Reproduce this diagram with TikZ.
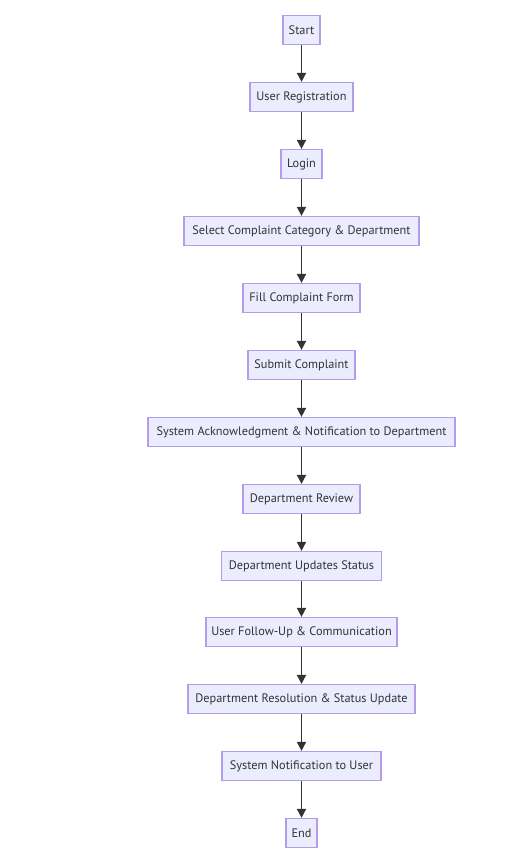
\documentclass[tikz,border=0pt]{standalone}
\usepackage{fontspec}
\setmainfont{PT Sans}
\usetikzlibrary{arrows.meta}
\definecolor{boxfill}{HTML}{ECECFF}
\definecolor{boxline}{HTML}{B39DEB}
\definecolor{txt}{HTML}{333333}
\begin{document}
\begin{tikzpicture}[x=1pt,y=-1pt,
  flowbox/.style={draw=boxline,fill=boxfill,line width=1.2pt,minimum height=29pt,inner sep=0pt,text=txt,font=\fontsize{12.3pt}{14pt}\selectfont},
  flowarrow/.style={draw=txt,line width=1.8pt,-{Triangle[length=9pt,width=9pt]}}]
\useasboundingbox (0,0) rectangle (524,859);
\node[flowbox,minimum width=37pt] (n1) at (301.5,30) {Start};
\node[flowbox,minimum width=103pt] (n2) at (301.5,97) {User Registration};
\node[flowbox,minimum width=41pt] (n3) at (301.5,164) {Login};
\node[flowbox,minimum width=235pt] (n4) at (301.5,231) {Select Complaint Category \& Department};
\node[flowbox,minimum width=117pt] (n5) at (301.5,298) {Fill Complaint Form};
\node[flowbox,minimum width=107pt] (n6) at (301.5,365) {Submit Complaint};
\node[flowbox,minimum width=307pt] (n7) at (301.5,432) {System Acknowledgment \& Notification to Department};
\node[flowbox,minimum width=117pt] (n8) at (301.5,499) {Department Review};
\node[flowbox,minimum width=160pt] (n9) at (301.5,566) {Department Updates Status};
\node[flowbox,minimum width=191pt] (n10) at (301.5,632) {User Follow-Up \& Communication};
\node[flowbox,minimum width=227pt] (n11) at (301.5,699) {Department Resolution \& Status Update};
\node[flowbox,minimum width=159pt] (n12) at (301.5,766) {System Notification to User};
\node[flowbox,minimum width=31pt] (n13) at (301.5,833) {End};
\foreach \a/\b in {n1/n2,n2/n3,n3/n4,n4/n5,n5/n6,n6/n7,n7/n8,n8/n9,n9/n10,n10/n11,n11/n12,n12/n13}
  \draw[flowarrow] (\a) -- (\b);
\end{tikzpicture}
\end{document}
